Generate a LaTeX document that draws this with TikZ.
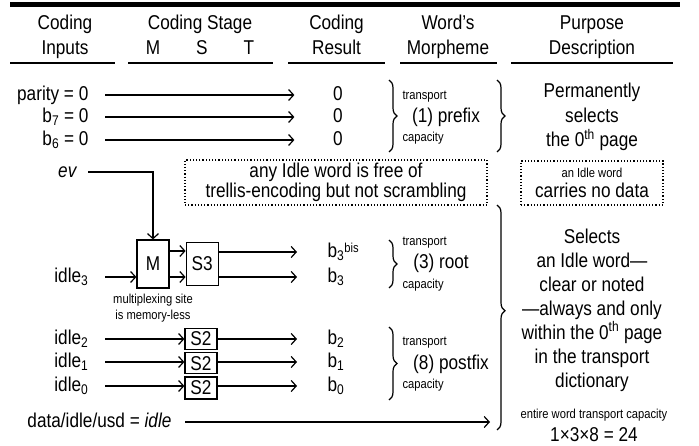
\documentclass[tikz,border=0pt]{standalone}
\usepackage{fontspec}
\setmainfont{Liberation Sans}[FakeStretch=0.86]
\usetikzlibrary{arrows.meta,positioning,decorations.pathreplacing}
\newcommand{\mainsz}{\fontsize{20}{24}\selectfont}
\newcommand{\smallsz}{\fontsize{13}{16}\selectfont}

\begin{document}
\begin{tikzpicture}[x=1pt,y=-1pt,line width=1.2pt,
arr/.style={-{Straight Barb[length=5pt,width=11pt]}},
feed/.style={arr,shorten <=16pt},
io/.style={font=\mainsz,inner sep=0pt,text height=15pt,text depth=4pt},
inp/.style={io,anchor=east},
res/.style={io,minimum width=86pt},
bres/.style={io,anchor=west},
hdr/.style={font=\fontsize{20}{25}\selectfont,align=center,inner sep=0pt},
desc/.style={font=\mainsz,align=center,inner sep=0pt},
sm/.style={font=\smallsz,inner sep=0pt},
morph/.style={font=\mainsz,inner sep=0pt},
block/.style={draw,font=\mainsz,minimum width=32pt,inner sep=0pt},
dotbox/.style={draw,dotted,font=\fontsize{20}{20}\selectfont,align=center,inner sep=0pt},
brc/.style={decorate,decoration={brace,amplitude=8pt}}]

        \useasboundingbox (0,0) rectangle (699,446);

        % header
        \draw[line width=5pt] (10,4.5) -- (680,4.5);
        \node [hdr] (hIn) at (65,37.5) {\strut Coding\\Inputs\strut};
        \node [hdr] (hSt) at (200,37.5) {\strut Coding Stage\\M\hspace{36pt}S\hspace{36pt}T\strut};
        \node [hdr] (hRes) at (336.5,37.5) {\strut Coding\\Result\strut};
        \node [hdr] (hMor) at (448,37.5) {\strut Word’s\\Morpheme\strut};
        \node [hdr] (hPur) at (592,37.5) {\strut Purpose\\Description\strut};
        \draw (10,63) -- (115,63) (128,63) -- (273,63) (288,63) -- (385,63)
              (400,63) -- (497,63) (511,63) -- (673,63);

        % prefix
        \node [inp] (par) at (89,95) {parity = 0};
        \node [inp] (b7) at (89,117) {b\textsubscript{7} = 0};
        \node [inp] (b6) at (89,140) {b\textsubscript{6} = 0};
        \node [res] (r1) at (338,95) {0};
        \node [res] (r2) at (338,117) {0};
        \node [res] (r3) at (338,140) {0};
        \draw [feed] (par) -- (r1);
        \draw [feed] (b7) -- (r2);
        \draw [feed] (b6) -- (r3);

        % root
        \node [inp] (ev) at (77,172) {\itshape ev};
        \node [block, minimum height=48pt] (M) at (153,264) {M};
        \node [block, minimum height=43pt, right=16pt of M] (S3) {S3};
        \node [sm, align=center, below=5pt of M] (mux) {multiplexing site\\is memory-less};
        \node [inp] (i3) at (89,277) {idle\textsubscript{3}};
        \node [bres] (b3x) at (327,252) {b\textsubscript{3}\raisebox{5pt}{\smallsz bis}};
        \node [bres] (b3) at (327,277) {b\textsubscript{3}};
        \draw [arr, shorten <=11pt] (ev) -| (M);
        \draw [feed] (i3) -- (i3 -| M.west);
        \draw [arr] ([yshift=13pt]M.east) -- ([yshift=13pt]S3.west);
        \draw [arr] ([yshift=-13pt]M.east) -- ([yshift=-13pt]S3.west);
        \draw [arr, shorten >=30pt] (b3x -| S3.east) -- (b3x);
        \draw [arr, shorten >=30pt] (b3 -| S3.east) -- (b3);

        % postfix
        \node [block, minimum height=21pt] (s2a) at (201,339) {S2};
        \node [block, minimum height=21pt, below=2pt of s2a] (s2b) {S2};
        \node [block, minimum height=22pt, below=2pt of s2b] (s2c) {S2};
        \node [inp] (i2) at (89,339) {idle\textsubscript{2}};
        \node [inp] (i1) at (89,362) {idle\textsubscript{1}};
        \node [inp] (i0) at (89,386) {idle\textsubscript{0}};
        \node [bres] (b2) at (327,339) {b\textsubscript{2}};
        \node [bres] (b1) at (327,362) {b\textsubscript{1}};
        \node [bres] (b0) at (327,386) {b\textsubscript{0}};
        \draw [feed] (i2) -- (i2 -| s2a.west);
        \draw [feed] (i1) -- (i1 -| s2b.west);
        \draw [feed] (i0) -- (i0 -| s2c.west);
        \draw [arr, shorten >=30pt] (b2 -| s2a.east) -- (b2);
        \draw [arr, shorten >=30pt] (b1 -| s2b.east) -- (b1);
        \draw [arr, shorten >=30pt] (b0 -| s2c.east) -- (b0);

        \node [inp] (dat) at (172,422) {data/idle/usd = \textit{idle}};
        \coordinate (dEnd) at (490,422);
        \draw [arr, shorten <=13pt] (dat) -- (dEnd);

        % morphemes
        \draw [brc] (389,80) -- (389,152);
        \node [sm, anchor=west] (tr1) at (402,97) {transport};
        \node [morph] (pre) at (446,117) {(1) prefix};
        \node [sm, anchor=west] (ca1) at (402,138) {capacity};
        \draw [brc] (389,240) -- (389,288);
        \node [sm, anchor=west] (tr3) at (402,243) {transport};
        \node [morph] (root) at (441,263) {(3) root};
        \node [sm, anchor=west] (ca3) at (402,285) {capacity};
        \draw [brc] (389,327) -- (389,400);
        \node [sm, anchor=west] (tr8) at (402,343) {transport};
        \node [morph] (post) at (451,364) {(8) postfix};
        \node [sm, anchor=west] (ca8) at (402,385) {capacity};

        % purpose
        \draw [brc] (497,80) -- (497,152);
        \node [desc, font=\fontsize{20}{24.5}\selectfont] (pur1) at (592,117) {Permanently\\selects\\the 0\textsuperscript{th} page};
        \node [dotbox, minimum width=302pt, minimum height=45pt] (free) at (336,182.5) {any Idle word is free of\\trellis-encoding but not scrambling};
        \node [dotbox, minimum width=142pt, minimum height=44pt] (nodata) at (592,183) {{\smallsz an Idle word}\\carries no data};
        \draw [decorate, decoration={brace,amplitude=8pt,aspect=0.47}] (497,205) -- (497,430);
        \node [desc] (pur2) at (592,310) {Selects\\an Idle word—\\clear or noted\\—always and only\\within the 0\textsuperscript{th} page\\in the transport\\dictionary};
        \node [sm] (ent) at (594,415) {entire word transport capacity};
        \node [morph] (tot) at (594,435) {1×3×8 = 24};
    \end{tikzpicture}
\end{document}
